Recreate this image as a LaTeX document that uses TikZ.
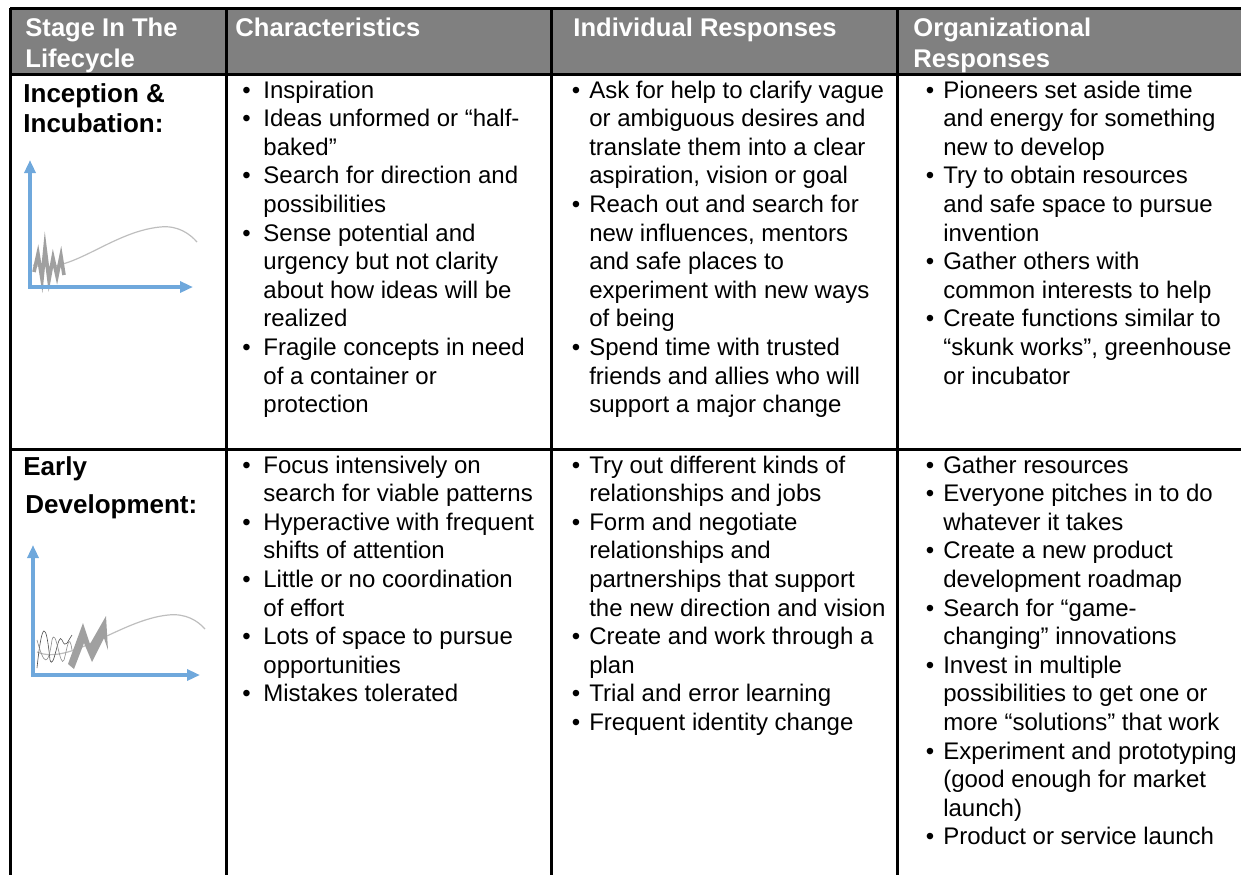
\documentclass[tikz,border=0pt]{standalone}
\usepackage{fontspec}
\setmainfont{Liberation Sans}
\usetikzlibrary{arrows.meta}

\definecolor{hdrgray}{RGB}{128,128,128}
\definecolor{axisblue}{RGB}{111,168,220}
\definecolor{curvegray}{RGB}{190,190,190}
\definecolor{zigzaggray}{RGB}{160,160,160}

\newcommand{\cellfont}{\fontsize{12}{14.3}\selectfont}
\newcommand{\hdrfont}{\fontsize{12.8}{15.5}\selectfont\bfseries}
\newcommand{\stagefont}{\fontsize{13}{15}\selectfont\bfseries}
\newcommand{\blist}[2][4.5pt]{\begin{tabular}[t]{@{}l@{\hspace{#1}}l@{}}#2\end{tabular}}
\newcommand{\lines}[1]{\begin{tabular}[t]{@{}l@{}}#1\end{tabular}}

\tikzset{
  hdr/.style={anchor=base west,inner sep=0pt,text=white,font=\hdrfont},
  cell/.style={anchor=base west,inner sep=0pt,font=\cellfont},
  stage/.style={anchor=base west,inner sep=0pt,font=\stagefont},
  rule/.style={line width=1.5pt,black},
  axis/.style={line width=2pt,axisblue,{Triangle[length=6.5pt,width=5.5pt]}-{Triangle[length=6.5pt,width=5.5pt]}},
  curve/.style={line width=0.6pt,curvegray},
}

\begin{document}
\begin{tikzpicture}[x=0.5pt,y=-0.5pt]
    \useasboundingbox (0,0) rectangle (1241,875);

    % header band and grid
    \fill[hdrgray] (10,8) rectangle (1241,74);
    \path [draw,rule] (10,8) -- (1241,8);
    \path [draw,rule] (10,74) -- (1241,74);
    \path [draw,rule] (10,449) -- (1241,449);
    \path [draw,rule] (10,8) -- (10,875);
    \path [draw,rule] (226,8) -- (226,875);
    \path [draw,rule] (551,8) -- (551,875);
    \path [draw,rule] (897,8) -- (897,875);

    % header
    \node[hdr] (hdrstage) at (25,36){\lines{Stage In The\\Lifecycle}};
    \node[hdr] (hdrchar) at (235,36){Characteristics};
    \node[hdr] (hdrind) at (573,36){Individual Responses};
    \node[hdr] (hdrorg) at (913,36){\lines{Organizational\\Responses}};

    % stage labels
    \node[stage] (inception) at (23,102){\lines{Inception \&\\Incubation:}};
    \node[stage] (early) at (23,475){Early};
    \node[stage] (development) at (25,513){Development:};

    % first row
    \node[cell] (charone) at (242,98){\blist[6.3pt]{
        \textbullet & Inspiration\\
        \textbullet & Ideas unformed or “half-\\
        & baked”\\
        \textbullet & Search for direction and\\
        & possibilities\\
        \textbullet & Sense potential and\\
        & urgency but not clarity\\
        & about how ideas will be\\
        & realized\\
        \textbullet & Fragile concepts in need\\
        & of a container or\\
        & protection}};
    \node[cell] (indone) at (571.5,98){\blist{
        \textbullet & Ask for help to clarify vague\\
        & or ambiguous desires and\\
        & translate them into a clear\\
        & aspiration, vision or goal\\
        \textbullet & Reach out and search for\\
        & new influences, mentors\\
        & and safe places to\\
        & experiment with new ways\\
        & of being\\
        \textbullet & Spend time with trusted\\
        & friends and allies who will\\
        & support a major change}};
    \node[cell] (orgone) at (925.5,98){\blist{
        \textbullet & Pioneers set aside time\\
        & and energy for something\\
        & new to develop\\
        \textbullet & Try to obtain resources\\
        & and safe space to pursue\\
        & invention\\
        \textbullet & Gather others with\\
        & common interests to help\\
        \textbullet & Create functions similar to\\
        & “skunk works”, greenhouse\\
        & or incubator}};

    % second row
    \node[cell] (chartwo) at (242,473){\blist[6.3pt]{
        \textbullet & Focus intensively on\\
        & search for viable patterns\\
        \textbullet & Hyperactive with frequent\\
        & shifts of attention\\
        \textbullet & Little or no coordination\\
        & of effort\\
        \textbullet & Lots of space to pursue\\
        & opportunities\\
        \textbullet & Mistakes tolerated}};
    \node[cell] (indtwo) at (571.5,473){\blist{
        \textbullet & Try out different kinds of\\
        & relationships and jobs\\
        \textbullet & Form and negotiate\\
        & relationships and\\
        & partnerships that support\\
        & the new direction and vision\\
        \textbullet & Create and work through a\\
        & plan\\
        \textbullet & Trial and error learning\\
        \textbullet & Frequent identity change}};
    \node[cell] (orgtwo) at (925.5,473){\blist{
        \textbullet & Gather resources\\
        \textbullet & Everyone pitches in to do\\
        & whatever it takes\\
        \textbullet & Create a new product\\
        & development roadmap\\
        \textbullet & Search for “game-\\
        & changing” innovations\\
        \textbullet & Invest in multiple\\
        & possibilities to get one or\\
        & more “solutions” that work\\
        \textbullet & Experiment and prototyping\\
        & (good enough for market\\
        & launch)\\
        \textbullet & Product or service launch}};

    % lifecycle sketch, first stage
    \draw[curve] (33,265) .. controls (70,276) and (110,232) .. (160,227)
        .. controls (178,225) and (190,234) .. (197,242);
    \draw[zigzaggray,line width=1.8pt,line join=miter] (34,272) -- (38,254) -- (42,279) -- (45,248)
        -- (49,280) -- (53,258) -- (57,276) -- (61,256) -- (64,275);
    \draw[axis] (30,160) -- (30,287) -- (193,287);

    % lifecycle sketch, second stage
    \draw[curve] (37,652) .. controls (70,666) and (120,620) .. (168,615)
        .. controls (186,613) and (198,621) .. (205,629);
    \draw[black!70,line width=0.3pt] (37,668) .. controls (42,620) and (46,620) .. (50,660)
        .. controls (54,672) and (58,630) .. (62,640) .. controls (66,650) and (68,640) .. (72,635);
    \draw[black!45,line width=0.3pt] (37,640) .. controls (44,665) and (48,668) .. (52,640)
        .. controls (56,625) and (60,670) .. (64,660) .. controls (67,650) and (69,630) .. (72,650);
    \fill[zigzaggray] (68,664) -- (83,623) -- (90,644) -- (106,616) -- (108,650) -- (104,638)
        -- (92,662) -- (84,643) -- (74,669) -- cycle;
    \draw[axis] (33,545) -- (33,675) -- (200,675);
\end{tikzpicture}
\end{document}
